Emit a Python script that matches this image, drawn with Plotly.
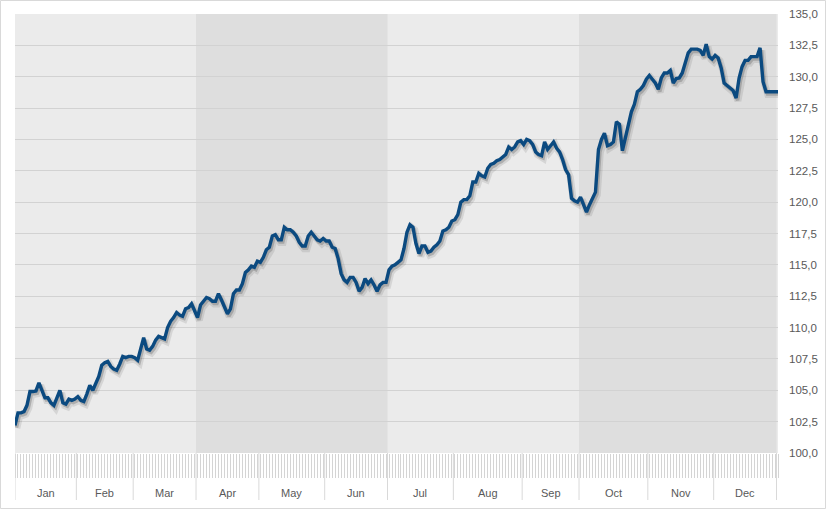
import plotly.graph_objects as go

months = ["Jan", "Feb", "Mar", "Apr", "May", "Jun", "Jul", "Aug", "Sep", "Oct", "Nov", "Dec"]
days_per_month = [21, 19, 21, 21, 22, 21, 22, 23, 19, 23, 22, 21]

values = [
    # Jan-Mar
    102.2, 103.2, 103.2, 103.3, 103.8, 104.9, 104.9, 104.95, 105.6, 104.9,
    104.4, 104.4, 104.0, 103.8, 104.4, 105.0, 104.0, 103.9, 104.3, 104.2,
    104.3, 104.5, 104.2, 104.1, 104.7, 105.4, 105.0, 105.5, 106.1, 107.0,
    107.2, 107.3, 106.9, 106.7, 106.6, 107.1, 107.7, 107.6, 107.7, 107.7,
    107.6, 107.4, 108.4, 109.2, 108.3, 108.2, 108.5, 109.0, 109.3, 109.2,
    109.1, 110.0, 110.5, 110.8, 111.2, 111.0, 110.9, 111.5, 111.6, 111.9,
    111.3,
    # Apr-Jun
    110.8, 111.8, 112.1, 112.4, 112.3, 112.1, 112.1, 112.7, 112.2, 111.6,
    111.1, 111.5, 112.7, 113.0, 113.0, 113.5, 114.4, 114.6, 114.9, 114.8,
    115.3, 115.2, 115.6, 116.2, 116.4, 117.3, 117.4, 117.0, 117.0, 118.0,
    117.8, 117.8, 117.6, 117.3, 116.8, 116.5, 116.5, 117.3, 117.6, 117.3,
    117.0, 116.9, 117.1, 116.9, 116.9, 116.4, 116.3, 115.5, 114.3, 113.8,
    113.6, 114.0, 114.0, 113.6, 112.9, 113.2, 113.9, 113.5, 113.8, 113.4,
    112.9, 113.4, 113.6, 113.6,
    # Jul-Sep
    114.6, 114.9, 115.0, 115.2, 115.4, 116.3, 117.6, 118.2, 118.0, 116.7,
    115.9, 116.5, 116.5, 116.0, 116.1, 116.4, 116.6, 116.9, 117.7, 117.8,
    118.0, 118.5, 118.6, 119.0, 120.0, 120.2, 120.2, 120.5, 121.6, 121.6,
    122.3, 122.1, 122.0, 122.7, 123.0, 123.1, 123.3, 123.4, 123.6, 123.8,
    124.4, 124.2, 124.4, 124.8, 124.9, 124.6, 125.0, 124.9, 124.6, 124.0,
    123.8, 123.7, 124.8, 124.2, 124.5, 124.8, 124.3, 124.0, 123.4, 122.6,
    122.2, 120.3, 120.1, 120.0, 120.4,
    # Oct-Dec
    119.8, 119.2, 119.8, 120.3, 120.8, 124.2, 125.0, 125.5, 124.5, 124.6,
    124.8, 126.4, 126.2, 124.1, 125.2, 126.2, 127.2, 127.8, 128.8, 129.0,
    129.3, 129.8, 130.1, 129.8, 129.5, 129.0, 129.9, 130.3, 130.3, 130.5,
    129.5, 129.85, 129.9, 130.3, 131.0, 131.9, 132.2, 132.2, 132.2, 132.1,
    131.7, 132.6, 131.6, 131.4, 131.7, 131.5, 130.7, 129.5, 129.3, 129.1,
    128.9, 128.3, 129.9, 130.8, 131.3, 131.3, 131.6, 131.6, 131.6, 132.3,
    129.6, 128.8, 128.8, 128.8, 128.8, 128.8,
]

N = len(values)
idx = list(range(N))

# month boundaries (in index units)
bounds = [-0.5]
for d in days_per_month:
    bounds.append(bounds[-1] + d)
bounds = [min(max(b, 0), N - 1) for b in bounds]
centers = [(bounds[k] + bounds[k + 1]) / 2 for k in range(12)]

W, H = 826, 509
L, R, T, B = 15, 48, 14, 56
pw, ph = W - L - R, H - T - B

fig = go.Figure()

# soft drop shadow of the line
fig.add_trace(go.Scatter(x=[i + 0.6 for i in idx], y=[v - 0.22 for v in values], mode="lines",
                         line=dict(color="rgba(60,60,60,0.12)", width=7), hoverinfo="skip", showlegend=False))
fig.add_trace(go.Scatter(x=[i + 0.5 for i in idx], y=[v - 0.18 for v in values], mode="lines",
                         line=dict(color="rgba(60,60,60,0.25)", width=3.5), hoverinfo="skip", showlegend=False))
fig.add_trace(go.Scatter(x=idx, y=values, mode="lines",
                         line=dict(color="#0b4a80", width=3.4), showlegend=False))

shapes = []
# darker quarter bands (Q2, Q4)
for q in (1, 3):
    shapes.append(dict(type="rect", xref="x", yref="paper", x0=bounds[3 * q], x1=bounds[3 * q + 3],
                       y0=0, y1=1, fillcolor="#dedede", line=dict(width=0), layer="below"))
# month separators below plot
for b in bounds:
    shapes.append(dict(type="line", xref="x", yref="paper", x0=b, x1=b, y0=0, y1=-47 / ph,
                       line=dict(color="#d9d9d9", width=1)))
# outer border
shapes.append(dict(type="rect", xref="paper", yref="paper",
                   x0=(-L + 0.5) / pw, x1=(pw + R - 0.5) / pw,
                   y0=(-B + 0.5) / ph, y1=(ph + T - 0.5) / ph,
                   line=dict(color="#d9d9d9", width=1), fillcolor="rgba(0,0,0,0)"))

annotations = [dict(x=c, y=-40 / ph, xref="x", yref="paper", text=m, showarrow=False,
                    font=dict(family="Liberation Sans, Arial, sans-serif", size=11, color="#595959"),
                    xanchor="center", yanchor="middle") for c, m in zip(centers, months)]

fig.update_layout(
    width=W, height=H,
    margin=dict(l=L, r=R, t=T, b=B, pad=0, autoexpand=False),
    paper_bgcolor="white",
    plot_bgcolor="#ebebeb",
    separators=",.",
    shapes=shapes,
    annotations=annotations,
    xaxis=dict(range=[0, N - 1], showgrid=False, zeroline=False, showticklabels=False,
               tickmode="array", tickvals=idx, ticks="outside", ticklen=24, tickwidth=1,
               tickcolor="#d4d4d4", showline=False, fixedrange=True, automargin=False),
    yaxis=dict(range=[100, 135], side="right", dtick=2.5, tick0=100, tickformat=".1f",
               showgrid=True, gridcolor="#d2d2d2", gridwidth=1, zeroline=False,
               ticks="", ticklabelstandoff=10, automargin=False,
               tickfont=dict(family="Liberation Sans, Arial, sans-serif", size=11.5, color="#595959"),
               fixedrange=True),
)

fig.write_html("out.html")
